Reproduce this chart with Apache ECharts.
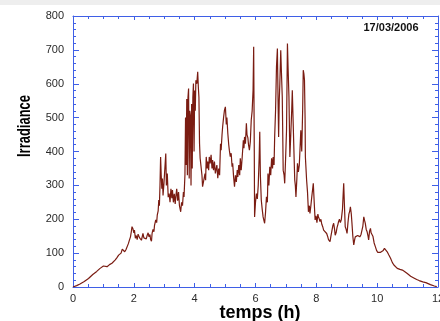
<!DOCTYPE html>
<html>
<head>
<meta charset="utf-8">
<script src="https://cdn.jsdelivr.net/npm/echarts@6/dist/echarts.min.js"></script>
<style>
  html, body { margin: 0; padding: 0; background: #fff; }
  #chart { width: 440px; height: 321px; }
</style>
</head>
<body>
<div id="chart"></div>
<script>
// temps (h) and irradiance
const hours = [
  0, 0.12, 0.23, 0.37, 0.51, 0.65, 0.78, 0.89, 0.95, 1.0, 1.06, 1.12, 1.2, 1.28, 1.33, 1.39, 1.44, 1.5, 1.54, 1.58,
  1.62, 1.67, 1.7, 1.74, 1.78, 1.82, 1.86, 1.89, 1.92, 1.94, 1.97, 2.0, 2.02, 2.05, 2.08, 2.11, 2.14, 2.16, 2.19, 2.22,
  2.25, 2.27, 2.3, 2.33, 2.37, 2.41, 2.44, 2.47, 2.5, 2.53, 2.55, 2.58, 2.6, 2.63, 2.66, 2.68, 2.72, 2.75, 2.77, 2.8,
  2.82, 2.84, 2.86, 2.88, 2.9, 2.92, 2.94, 2.96, 2.99, 3.02, 3.05, 3.07, 3.1, 3.13, 3.16, 3.19, 3.22, 3.25, 3.27, 3.3,
  3.33, 3.36, 3.38, 3.41, 3.44, 3.47, 3.5, 3.54, 3.57, 3.6, 3.63, 3.65, 3.68, 3.7, 3.72, 3.74, 3.76, 3.78, 3.8, 3.82,
  3.84, 3.86, 3.88, 3.9, 3.92, 3.94, 3.96, 3.98, 4.0, 4.02, 4.04, 4.07, 4.1, 4.12, 4.14, 4.16, 4.18, 4.21, 4.24, 4.26,
  4.29, 4.31, 4.34, 4.36, 4.38, 4.41, 4.43, 4.46, 4.48, 4.51, 4.54, 4.57, 4.59, 4.62, 4.65, 4.68, 4.7, 4.73, 4.76, 4.79,
  4.82, 4.85, 4.87, 4.9, 4.92, 4.95, 4.98, 5.01, 5.04, 5.06, 5.09, 5.12, 5.14, 5.17, 5.2, 5.23, 5.25, 5.28, 5.31, 5.34,
  5.37, 5.4, 5.42, 5.45, 5.48, 5.5, 5.53, 5.56, 5.6, 5.62, 5.64, 5.67, 5.7, 5.72, 5.75, 5.77, 5.8, 5.83, 5.86, 5.89,
  5.92, 5.94, 5.96, 5.97, 6.0, 6.03, 6.06, 6.09, 6.12, 6.14, 6.16, 6.19, 6.22, 6.25, 6.28, 6.3, 6.33, 6.36, 6.39, 6.41,
  6.44, 6.47, 6.5, 6.53, 6.56, 6.58, 6.61, 6.63, 6.66, 6.69, 6.72, 6.74, 6.76, 6.78, 6.8, 6.83, 6.85, 6.88, 6.9, 6.91,
  6.94, 6.96, 6.99, 7.02, 7.05, 7.07, 7.1, 7.13, 7.16, 7.19, 7.21, 7.24, 7.27, 7.29, 7.31, 7.33, 7.36, 7.38, 7.41, 7.44,
  7.47, 7.49, 7.52, 7.55, 7.57, 7.59, 7.61, 7.63, 7.64, 7.66, 7.68, 7.71, 7.74, 7.77, 7.79, 7.82, 7.85, 7.88, 7.9, 7.93,
  7.96, 7.99, 8.02, 8.05, 8.07, 8.1, 8.12, 8.15, 8.18, 8.21, 8.24, 8.27, 8.3, 8.34, 8.37, 8.4, 8.43, 8.45, 8.48, 8.51,
  8.54, 8.57, 8.6, 8.62, 8.65, 8.68, 8.71, 8.73, 8.76, 8.79, 8.82, 8.84, 8.86, 8.88, 8.9, 8.92, 8.95, 8.98, 9.01, 9.04,
  9.07, 9.1, 9.12, 9.15, 9.17, 9.2, 9.23, 9.26, 9.28, 9.32, 9.36, 9.39, 9.43, 9.47, 9.5, 9.53, 9.56, 9.59, 9.61, 9.64,
  9.67, 9.7, 9.72, 9.75, 9.78, 9.8, 9.83, 9.86, 9.9, 9.94, 9.98, 10.02, 10.06, 10.1, 10.14, 10.2, 10.24, 10.27, 10.33, 10.38,
  10.44, 10.5, 10.55, 10.6, 10.66, 10.75, 10.83, 10.9, 10.99, 11.1, 11.22, 11.3, 11.38, 11.5, 11.6, 11.75, 11.88, 11.96
];
const irradiance = [
  0, 4, 9, 16, 25, 37, 46, 55, 60, 62, 58, 60, 66, 70, 68, 80, 86, 94, 90, 100,
  112, 111, 104, 110, 114, 128, 140, 148, 165, 178, 172, 160, 168, 144, 152, 140, 156, 158, 145, 150,
  138, 141, 158, 145, 150, 142, 153, 160, 148, 155, 141, 135, 158, 170, 163, 182, 198, 190, 212, 225,
  257, 240, 300, 384, 330, 290, 320, 270, 306, 350, 394, 300, 335, 265, 276, 250, 290, 262, 286, 250,
  275, 245, 266, 290, 255, 280, 240, 222, 250, 240, 280, 266, 330, 500, 360, 555, 330, 560, 586, 320,
  520, 505, 300, 540, 350, 560, 601, 400, 580, 520, 610, 600, 635, 591, 560, 424, 380, 375, 330, 296,
  300, 291, 335, 315, 384, 350, 370, 345, 384, 365, 390, 350, 375, 345, 370, 335, 345, 360, 321, 350,
  330, 423, 404, 450, 473, 500, 522, 532, 480, 500, 453, 420, 404, 385, 395, 355, 365, 325, 296, 330,
  310, 345, 325, 360, 330, 380, 345, 380, 433, 410, 443, 423, 483, 450, 440, 420, 404, 430, 493, 520,
  581, 709, 400, 207, 250, 276, 260, 300, 380, 458, 330, 257, 230, 207, 195, 188, 220, 266, 250, 335,
  300, 355, 330, 380, 350, 384, 360, 443, 522, 650, 704, 560, 443, 550, 600, 699, 640, 561, 420, 345,
  330, 306, 380, 463, 719, 650, 561, 384, 450, 520, 581, 480, 380, 316, 300, 266, 320, 365, 340, 360,
  420, 463, 400, 520, 640, 630, 611, 500, 384, 350, 316, 280, 222, 240, 217, 240, 266, 290, 306, 250,
  198, 210, 190, 215, 207, 200, 193, 200, 185, 178, 168, 172, 165, 158, 150, 140, 145, 134, 150, 165,
  180, 188, 170, 153, 160, 175, 185, 193, 200, 190, 198, 203, 230, 270, 306, 250, 178, 170, 158, 190,
  215, 225, 237, 215, 190, 150, 124, 140, 148, 143, 152, 153, 148, 155, 160, 180, 207, 195, 188, 170,
  163, 150, 139, 165, 173, 160, 165, 150, 130, 119, 108, 102, 99, 102, 106, 108, 114, 112, 104, 95,
  85, 72, 65, 60, 55, 52, 50, 46, 40, 32, 26, 22, 19, 15, 13, 7, 3, 1
];
const xTicks = [0, 2, 4, 6, 8, 10, 12];
const yTicks = [0, 100, 200, 300, 400, 500, 600, 700, 800];
const dateLabel = "17/03/2006";

const axisBlue = "#3f5fe6";
const labelFont = { color: "#2a2a2a", fontSize: 11, fontFamily: "Liberation Sans, Arial, sans-serif" };

const chart = echarts.init(document.getElementById("chart"), null, { renderer: "canvas" });

function xAxisOf(position, showLabel) {
  return {
    type: "value",
    position: position,
    min: xTicks[0],
    max: xTicks[xTicks.length - 1],
    interval: 2,
    axisLine: { show: true, onZero: false, lineStyle: { color: axisBlue, width: 1 } },
    axisTick: { show: true, inside: true, length: 4, lineStyle: { color: axisBlue } },
    minorTick: { show: true, splitNumber: 4, length: 3, lineStyle: { color: axisBlue } },
    splitLine: { show: false },
    axisLabel: Object.assign(
      { show: showLabel, margin: 6, hideOverlap: false, alignMinLabel: "center", alignMaxLabel: "center" },
      labelFont
    )
  };
}

function yAxisOf(position, showLabel) {
  return {
    type: "value",
    position: position,
    min: yTicks[0],
    max: yTicks[yTicks.length - 1],
    interval: 100,
    axisLine: { show: true, onZero: false, lineStyle: { color: axisBlue, width: 1 } },
    axisTick: { show: true, inside: true, length: 6, lineStyle: { color: axisBlue } },
    minorTick: { show: true, splitNumber: 5, length: 3, lineStyle: { color: axisBlue } },
    splitLine: { show: false },
    axisLabel: Object.assign({ show: showLabel, margin: 9 }, labelFont)
  };
}

chart.setOption({
  animation: false,
  backgroundColor: "#fff",
  grid: { left: 73, right: 2, top: 16, bottom: 34, containLabel: false, outerBoundsMode: "none" },
  xAxis: [xAxisOf("bottom", true), xAxisOf("top", false)],
  yAxis: [yAxisOf("left", true), yAxisOf("right", false)],
  graphic: [
    {
      type: "rect", left: 0, top: 0, z: -1,
      shape: { width: 440, height: 5 },
      style: { fill: "#eeeeee" }
    },
    {
      // condensed bold label, as in the original figure
      type: "text", x: 25, y: 126, rotation: Math.PI / 2, scaleX: 0.72,
      style: {
        text: "Irradiance", fill: "#000", font: "bold 18px 'Liberation Sans', Arial, sans-serif",
        textAlign: "center", textVerticalAlign: "middle"
      }
    },
    {
      type: "text", x: 260, y: 313,
      style: {
        text: "temps (h)", fill: "#000", font: "bold 18px 'Liberation Sans', Arial, sans-serif",
        textAlign: "center", textVerticalAlign: "middle"
      }
    },
    {
      type: "text", x: 391, y: 28,
      style: {
        text: dateLabel, fill: "#111", font: "bold 11px 'Liberation Sans', Arial, sans-serif",
        textAlign: "center", textVerticalAlign: "middle"
      }
    }
  ],
  series: [
    {
      type: "line",
      xAxisIndex: 0,
      yAxisIndex: 0,
      showSymbol: false,
      lineStyle: { color: "#7a1c12", width: 1.2 },
      data: hours.map((h, i) => [h, irradiance[i]])
    }
  ]
});
</script>
</body>
</html>
